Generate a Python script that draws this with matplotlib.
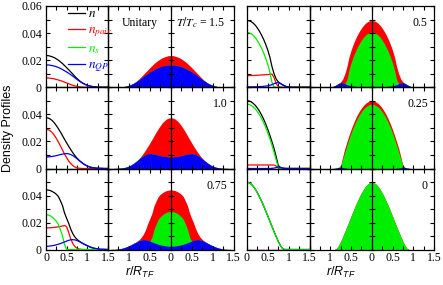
import numpy as np
import matplotlib
matplotlib.use('Agg')
import matplotlib.pyplot as plt
from matplotlib.ticker import MultipleLocator, FuncFormatter, NullFormatter

plt.rcParams['font.family'] = ['Liberation Serif', 'DejaVu Serif']
plt.rcParams['mathtext.fontset'] = 'stix'
plt.rcParams['mathtext.rm'] = 'Liberation Sans'
plt.rcParams['mathtext.it'] = 'Liberation Sans:italic'
plt.rcParams['axes.linewidth'] = 0.9

# radial grid r/R_TF
r = [0, 0.05, 0.1, 0.15, 0.2, 0.25, 0.3, 0.35, 0.4, 0.45, 0.5, 0.55, 0.6, 0.65, 0.7,
     0.75, 0.8, 0.85, 0.9, 0.95, 1.0, 1.05, 1.1, 1.15, 1.2, 1.25, 1.3, 1.35, 1.4, 1.45, 1.5]

# T/Tc = 1.5
pair_15 = [.0069, .0069, .0067, .0065, .0062, .0058, .0054, .0049, .0044, .0038,
           .0032, .0026, .0020, .0015, .0010, .0007, .0004, .0002, .0001] + [0] * 12
s_15 = [0] * 31
qp_15 = [.0165, .0165, .0163, .0160, .0157, .0152, .0146, .0139, .0131, .0122,
         .0113, .0103, .0093, .0082, .0070, .0058, .0047, .0037, .0028, .0021,
         .0015, .0010, .0007, .0004, .0002, .0001, .0001] + [0] * 4

# T/Tc = 1.0
pair_10 = [.0290, .0287, .0279, .0265, .0246, .0222, .0195, .0166, .0136, .0106,
           .0079, .0055, .0036, .0021, .0011, .0005, .0002, .0001] + [0] * 13
s_10 = [0] * 31
qp_10 = [.0085, .0086, .0087, .0089, .0092, .0095, .0099, .0103, .0106, .0109,
         .0110, .0108, .0103, .0095, .0084, .0072, .0059, .0047, .0036, .0026,
         .0018, .0012, .0008, .0005, .0003, .0002, .0001, .0001] + [0] * 3

# T/Tc = 0.75
pair_075 = [.0160, .0160, .0161, .0162, .0164, .0166, .0168, .0171, .0174, .0178,
            .0168, .0125, .0078, .0043, .0021, .0009, .0004, .0001] + [0] * 13
s_075 = [.0258, .0256, .0250, .0240, .0226, .0208, .0185, .0145, .0100, .0035] + [0] * 21
qp_075 = [.0024, .0024, .0026, .0028, .0031, .0035, .0039, .0044, .0050, .0056,
          .0062, .0068, .0072, .0073, .0071, .0066, .0059, .0051, .0043, .0035,
          .0028, .0021, .0015, .0010, .0007, .0004, .0002, .0001, .0001] + [0] * 2

# T/Tc = 0.5
pair_05 = [.0086, .0086, .0087, .0087, .0088, .0089, .0090, .0091, .0092, .0093,
           .0094, .0096, .0097, .0072, .0028, .0006, .0001] + [0] * 14
s_05 = [.0404, .0402, .0395, .0383, .0366, .0344, .0318, .0288, .0254, .0214,
        .0168, .0110, .0035] + [0] * 18
qp_05 = [.0003, .0003, .0003, .0003, .0004, .0004, .0005, .0006, .0007, .0009,
         .0011, .0015, .0020, .0027, .0033, .0034, .0028, .0019, .0011, .0005,
         .0002, .0001] + [0] * 9

# T/Tc = 0.25
pair_025 = [.0026] * 14 + [.0018, .0004] + [0] * 15
s_025 = [.0475, .0473, .0466, .0455, .0440, .0420, .0397, .0370, .0338, .0302,
         .0262, .0218, .0170, .0118, .0062, .0008] + [0] * 15
qp_025 = [0] * 12 + [.0001, .0003, .0007, .0011, .0008, .0003, .0001] + [0] * 12

# T/Tc = 0
pair_0 = [0] * 31
s_0 = [.0498, .0495, .0485, .0468, .0446, .0420, .0390, .0357, .0322, .0285,
       .0247, .0208, .0170, .0132, .0095, .0060, .0030, .0008] + [0] * 13
qp_0 = [0] * 31

panels = [[(pair_15, s_15, qp_15, '1.5'), (pair_05, s_05, qp_05, '0.5')],
          [(pair_10, s_10, qp_10, '1.0'), (pair_025, s_025, qp_025, '0.25')],
          [(pair_075, s_075, qp_075, '0.75'), (pair_0, s_0, qp_0, '0')]]

RED = '#ff0000'
GREEN = '#00ee00'
BLUE = '#0000ff'

W, H = 443.0, 285.0
cols = [(46, 108), (108, 233.5), (247, 309.5), (309.5, 434)]
rows = [(6, 87.3), (87.3, 168.5), (168.5, 249.5)]


def box(c, rw):
    return [c[0] / W, 1 - rw[1] / H, (c[1] - c[0]) / W, (rw[1] - rw[0]) / H]


def ylab_top(v, p):
    if abs(v) < 1e-9:
        return '0'
    return '%.2f' % v


def ylab(v, p):
    if v > 0.055:
        return ''
    return ylab_top(v, p)


def style(ax):
    ax.set_facecolor('none')
    ax.set_ylim(0, 0.06)
    ax.yaxis.set_major_locator(MultipleLocator(0.02))
    ax.yaxis.set_minor_locator(MultipleLocator(0.01))
    ax.xaxis.set_major_locator(MultipleLocator(0.5))
    ax.xaxis.set_minor_locator(MultipleLocator(0.25))
    ax.tick_params(which='both', direction='in', top=True, right=True,
                   length=3, width=0.8, labelsize=8.5)
    ax.tick_params(axis='x', pad=2)
    ax.tick_params(axis='y', pad=3)


rr = np.array(r)
xm = np.concatenate([-rr[::-1], rr[1:]])


def mirror(y):
    y = np.asarray(y)
    return np.concatenate([y[::-1], y[1:]])


fig = plt.figure(figsize=(4.43, 2.85), dpi=100)

for i in range(3):
    for g in range(2):
        pair, s, qp, lab = panels[i][g]
        pair = np.array(pair)
        s = np.array(s)
        qp = np.array(qp)
        n = pair + s + qp

        # line panel
        axl = fig.add_axes(box(cols[2 * g], rows[i]))
        axl.set_zorder(2)
        axl.plot(rr, n, color='k', lw=0.9, label=r'$n$')
        axl.plot(rr, pair, color=RED, lw=0.9, label=r'$n_{pair}$')
        axl.plot(rr, s, color=GREEN, lw=0.9, label=r'$n_s$')
        axl.plot(rr, qp, color=BLUE, lw=0.9, label=r'$n_{QP}$')
        axl.set_xlim(0, 1.5)
        style(axl)
        axl.xaxis.set_major_formatter(FuncFormatter(lambda v, p: '%g' % abs(v)))
        if g == 0:
            axl.yaxis.set_major_formatter(FuncFormatter(ylab_top if i == 0 else ylab))
        else:
            axl.tick_params(labelleft=False)
        if i < 2:
            axl.tick_params(labelbottom=False)
        if i == 0 and g == 0:
            axl.legend(loc='upper left', bbox_to_anchor=(0.355, 0.975),
                       frameon=False, fontsize=9.5, handlelength=1.25,
                       handletextpad=0.3, labelspacing=0.28,
                       borderpad=0, borderaxespad=0, labelcolor='linecolor')

        # mirrored filled panel
        axf = fig.add_axes(box(cols[2 * g + 1], rows[i]))
        axf.fill_between(xm, 0, mirror(n), color=RED, lw=0)
        axf.fill_between(xm, 0, mirror(s + qp), color=GREEN, lw=0)
        axf.fill_between(xm, 0, mirror(qp), color=BLUE, lw=0)
        axf.set_xlim(-1.5, 1.5)
        style(axf)
        axf.tick_params(labelleft=False)
        axf.xaxis.set_major_formatter(FuncFormatter(
            lambda v, p: '' if abs(v + 1.5) < 1e-6 else '%g' % abs(v)))
        if i < 2:
            axf.tick_params(labelbottom=False)
        sec = axf.secondary_yaxis(0.5)
        sec.set_yticks([0, 0.01, 0.02, 0.03, 0.04, 0.05, 0.06])
        sec.yaxis.set_major_formatter(NullFormatter())
        sec.tick_params(direction='inout', length=4, width=0.8,
                        labelleft=False, labelright=False)
        sec.spines['left'].set_linewidth(0.9)
        sec.set_zorder(5)

        if i == 0 and g == 0:
            axf.text(0.11, 0.79, 'Unitary', transform=axf.transAxes,
                     fontsize=8.5, va='center', ha='left')
            axf.text(0.54, 0.79, r'$T/T_c$ = 1.5', transform=axf.transAxes,
                     fontsize=8.5, va='center', ha='left')
        else:
            axf.text(0.95, 0.79, lab, transform=axf.transAxes,
                     fontsize=8.5, va='center', ha='right')

fig.text(0.018, 0.551, 'Density Profiles', rotation=90, fontsize=9,
         family='Liberation Sans', ha='center', va='center')
for c0, c1 in [(46, 233.5), (247, 434)]:
    fig.text((c0 + c1) / 2 / W, 1 - 272 / H, r'$r/R_{TF}$', fontsize=9,
             math_fontfamily='custom', ha='center', va='center')

fig.savefig('out.png', dpi=100)
